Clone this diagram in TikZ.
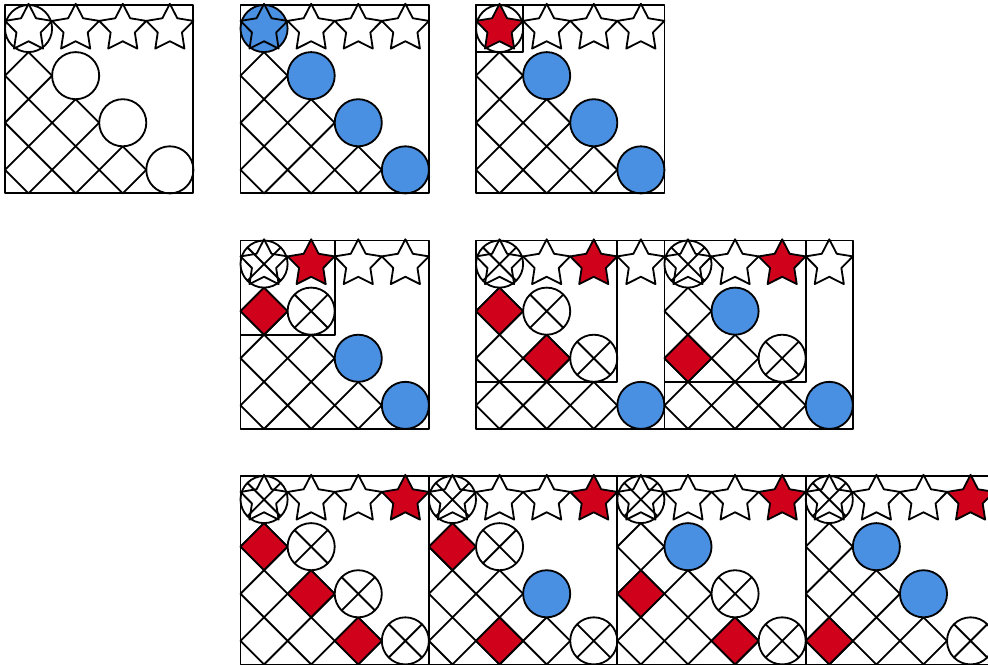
\documentclass[tikz,border=0pt]{standalone}
\usepackage{tikz}
\definecolor{cblue}{HTML}{4A90E2}
\definecolor{cred}{HTML}{D0021B}
% shapes in cell (col,row), row counted downwards
\newcommand{\cstar}[3]{\draw[fill=#3,shift={(#1+0.5,-#2-0.5)}] (90:\so)--(126:\si)--(162:\so)--(198:\si)--(234:\so)--(270:\si)--(306:\so)--(342:\si)--(18:\so)--(54:\si)--cycle;}
\newcommand{\ccirc}[3]{\draw[fill=#3] (#1+0.5,-#2-0.5) circle (0.5);}
\newcommand{\xcirc}[2]{\draw[fill=white] (#1+0.5,-#2-0.5) circle (0.5) +(45:0.5)--+(225:0.5) +(135:0.5)--+(315:0.5);}
\newcommand{\cdiam}[3]{\draw[fill=#3] (#1,-#2-0.5)--(#1+0.5,-#2)--(#1+1,-#2-0.5)--(#1+0.5,-#2-1)--cycle;}
\begin{document}
\begin{tikzpicture}[scale=1, line width=1.1pt, line join=round, line cap=round]
	\def\so{0.526} \def\si{0.27}
	\def\lowcells{1/0,2/0,2/1,3/0,3/1,3/2}
	\useasboundingbox (-0.106,0.106) rectangle (20.87,-14.01);
	\clip (-0.106,0.106) rectangle (20.87,-14.01);
	% row 1
	\begin{scope}[shift={(0,0)}]
		\foreach \i/\j in \lowcells \cdiam{\j}{\i}{white};
		\foreach \k in {0,...,3} \ccirc{\k}{\k}{white};
		\foreach \k in {0,...,3} \cstar{\k}{0}{none};
		\draw (0,0) rectangle (4,-4);
	\end{scope}
	\begin{scope}[shift={(5,0)}]
		\foreach \i/\j in \lowcells \cdiam{\j}{\i}{white};
		\foreach \k in {0,...,3} \ccirc{\k}{\k}{cblue};
		\foreach \k in {0,...,3} \cstar{\k}{0}{none};
		\draw (0,0) rectangle (4,-4);
	\end{scope}
	\begin{scope}[shift={(10,0)}]
		\foreach \i/\j in \lowcells \cdiam{\j}{\i}{white};
		\ccirc{0}{0}{white};
		\foreach \k in {1,...,3} \ccirc{\k}{\k}{cblue};
		\foreach \k in {1,...,3} \cstar{\k}{0}{none};
		\cstar{0}{0}{cred};
		\draw (0,0) rectangle (1,-1);
		\draw (0,0) rectangle (4,-4);
	\end{scope}
	% row 2
	\begin{scope}[shift={(5,-5)}]
		\foreach \i/\j in \lowcells \cdiam{\j}{\i}{white};
		\cdiam{0}{1}{cred};
		\xcirc{0}{0}; \xcirc{1}{1};
		\foreach \k in {2,3} \ccirc{\k}{\k}{cblue};
		\foreach \k in {0,2,3} \cstar{\k}{0}{none};
		\cstar{1}{0}{cred};
		\draw (0,0) rectangle (2,-2);
		\draw (0,0) rectangle (4,-4);
	\end{scope}
	\begin{scope}[shift={(10,-5)}]
		\foreach \i/\j in \lowcells \cdiam{\j}{\i}{white};
		\cdiam{0}{1}{cred}; \cdiam{1}{2}{cred};
		\foreach \k in {0,1,2} \xcirc{\k}{\k};
		\ccirc{3}{3}{cblue};
		\foreach \k in {0,1,3} \cstar{\k}{0}{none};
		\cstar{2}{0}{cred};
		\draw (0,0) rectangle (3,-3);
		\draw (0,0) rectangle (4,-4);
	\end{scope}
	\begin{scope}[shift={(14,-5)}]
		\foreach \i/\j in \lowcells \cdiam{\j}{\i}{white};
		\cdiam{0}{2}{cred};
		\xcirc{0}{0}; \xcirc{2}{2};
		\foreach \k in {1,3} \ccirc{\k}{\k}{cblue};
		\foreach \k in {0,1,3} \cstar{\k}{0}{none};
		\cstar{2}{0}{cred};
		\draw (0,0) rectangle (3,-3);
		\draw (0,0) rectangle (4,-4);
	\end{scope}
	% row 3
	\begin{scope}[shift={(5,-10)}]
		\foreach \i/\j in \lowcells \cdiam{\j}{\i}{white};
		\foreach \i/\j in {1/0,2/1,3/2} \cdiam{\j}{\i}{cred};
		\foreach \k in {0,...,3} \xcirc{\k}{\k};
		\foreach \k in {0,1,2} \cstar{\k}{0}{none};
		\cstar{3}{0}{cred};
		\draw (0,0) rectangle (4,-4);
	\end{scope}
	\begin{scope}[shift={(9,-10)}]
		\foreach \i/\j in \lowcells \cdiam{\j}{\i}{white};
		\foreach \i/\j in {1/0,3/1} \cdiam{\j}{\i}{cred};
		\foreach \k in {0,1,3} \xcirc{\k}{\k};
		\ccirc{2}{2}{cblue};
		\foreach \k in {0,1,2} \cstar{\k}{0}{none};
		\cstar{3}{0}{cred};
		\draw (0,0) rectangle (4,-4);
	\end{scope}
	\begin{scope}[shift={(13,-10)}]
		\foreach \i/\j in \lowcells \cdiam{\j}{\i}{white};
		\foreach \i/\j in {2/0,3/2} \cdiam{\j}{\i}{cred};
		\foreach \k in {0,2,3} \xcirc{\k}{\k};
		\ccirc{1}{1}{cblue};
		\foreach \k in {0,1,2} \cstar{\k}{0}{none};
		\cstar{3}{0}{cred};
		\draw (0,0) rectangle (4,-4);
	\end{scope}
	\begin{scope}[shift={(17,-10)}]
		\foreach \i/\j in \lowcells \cdiam{\j}{\i}{white};
		\cdiam{0}{3}{cred};
		\foreach \k in {0,3} \xcirc{\k}{\k};
		\foreach \k in {1,2} \ccirc{\k}{\k}{cblue};
		\foreach \k in {0,1,2} \cstar{\k}{0}{none};
		\cstar{3}{0}{cred};
		\draw (0,0) rectangle (4,-4);
	\end{scope}
\end{tikzpicture}
\end{document}
